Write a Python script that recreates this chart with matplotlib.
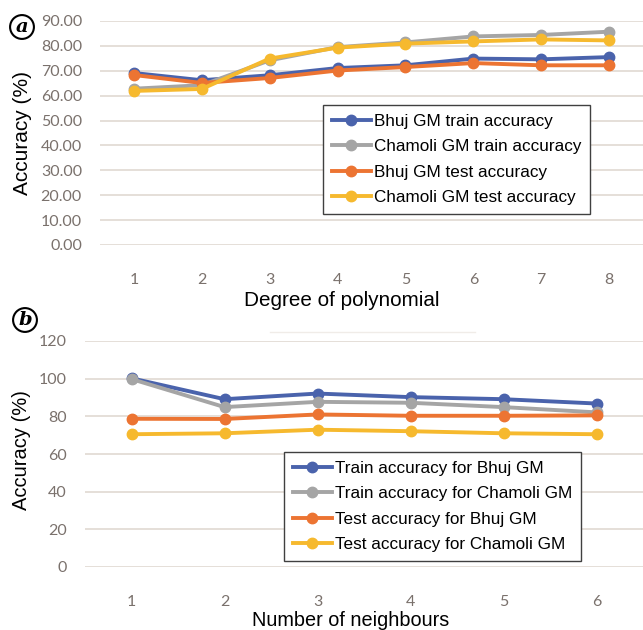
import matplotlib
matplotlib.use("Agg")
import matplotlib.pyplot as plt
from matplotlib.lines import Line2D

# ---- data ----
degrees = [1, 2, 3, 4, 5, 6, 7, 8]
bhuj_train_a = [69.1, 66.2, 68.2, 71.1, 72.2, 74.9, 74.6, 75.5]
chamoli_train_a = [62.8, 64.2, 74.2, 79.5, 81.4, 83.8, 84.4, 85.7]
bhuj_test_a = [68.3, 65.1, 67.1, 70.1, 71.5, 73.1, 72.2, 72.2]
chamoli_test_a = [61.9, 62.7, 74.9, 79.3, 80.9, 81.8, 82.6, 82.2]
labels_a = ["Bhuj GM train accuracy", "Chamoli GM train accuracy",
            "Bhuj GM test accuracy", "Chamoli GM test accuracy"]
yticks_a = [0, 10, 20, 30, 40, 50, 60, 70, 80, 90]

neighbours = [1, 2, 3, 4, 5, 6]
bhuj_train_b = [100.2, 89.1, 92.1, 90.2, 89.1, 86.8]
chamoli_train_b = [99.8, 84.9, 87.7, 87.2, 84.9, 82.1]
bhuj_test_b = [78.7, 78.6, 81.0, 80.3, 80.3, 80.5]
chamoli_test_b = [70.5, 71.0, 72.9, 72.1, 71.0, 70.5]
labels_b = ["Train accuracy for Bhuj GM", "Train accuracy for Chamoli GM",
            "Test accuracy for Bhuj GM", "Test accuracy for Chamoli GM"]
yticks_b = [0, 20, 40, 60, 80, 100, 120]

colors = ["#4A63AC", "#A5A5A5", "#EC7432", "#F6B92E"]
tick_color = "#7a716c"
grid_color = "#e3dcd6"
W, H = 643, 630

fig = plt.figure(figsize=(W / 100, H / 100), dpi=100)

def style_ax(ax, xs, yticks, fmt):
    ax.set_yticks(yticks)
    ax.set_yticklabels([fmt.format(v) for v in yticks])
    ax.set_xticks(xs)
    ax.set_xticklabels([str(v) for v in xs])
    for s in ax.spines.values():
        s.set_visible(False)
    ax.grid(axis="y", color=grid_color, lw=1.3)
    ax.set_axisbelow(True)
    ax.tick_params(length=0, colors=tick_color, labelsize=11.5)
    for lab in ax.get_xticklabels() + ax.get_yticklabels():
        lab.set_fontfamily("Lato")

def plot_series(ax, xs, series):
    handles = []
    for ys, c in zip(series, colors):
        h, = ax.plot(xs, ys, color=c, lw=2.8, marker="o", ms=7.5,
                     clip_on=False, zorder=3)
        handles.append(h)
    return handles

def add_legend(ax, handles, labels, left, top):
    leg = ax.legend(handles, labels, loc="upper left",
                    bbox_to_anchor=(left / W, 1 - top / H),
                    bbox_transform=fig.transFigure,
                    prop={"family": "Liberation Sans", "size": 12.3},
                    frameon=True, fancybox=False, edgecolor="#404040", framealpha=1,
                    handlelength=2.3, handletextpad=0.2, labelspacing=0.62,
                    borderpad=0.5, borderaxespad=0)
    leg.get_frame().set_linewidth(1.0)
    return leg

# ---- panel a ----
ax1 = fig.add_axes([100 / W, 1 - 245 / H, 543 / W, 224 / H])
ha = plot_series(ax1, degrees, [bhuj_train_a, chamoli_train_a, bhuj_test_a, chamoli_test_a])
ax1.set_xlim(0.5, 8.5)
ax1.set_ylim(0, 90)
style_ax(ax1, degrees, yticks_a, "{:.2f}")
ax1.tick_params(axis="y", pad=13)
ax1.tick_params(axis="x", pad=20)
add_legend(ax1, ha, labels_a, 323, 105)
fig.text(342 / W, 1 - 300 / H, "Degree of polynomial", fontsize=14.9,
         family="Liberation Sans", ha="center", va="center")
fig.text(23 / W, 1 - 133 / H, "Accuracy (%)", fontsize=15, rotation=90,
         family="Liberation Sans", ha="center", va="center")

# ---- panel b ----
ax2 = fig.add_axes([85 / W, 1 - 567 / H, 558 / W, 226 / H])
hb = plot_series(ax2, neighbours, [bhuj_train_b, chamoli_train_b, bhuj_test_b, chamoli_test_b])
ax2.set_xlim(0.5, 6.5)
ax2.set_ylim(0, 120)
style_ax(ax2, neighbours, yticks_b, "{:d}")
ax2.tick_params(axis="y", pad=13)
ax2.tick_params(axis="x", pad=20)
add_legend(ax2, hb, labels_b, 284, 452)
fig.text(351 / W, 1 - 621 / H, "Number of neighbours", fontsize=14.3,
         family="Liberation Sans", ha="center", va="center")
fig.text(22 / W, 1 - 450 / H, "Accuracy (%)", fontsize=14.5, rotation=90,
         family="Liberation Sans", ha="center", va="center")

# faint title remnant line in panel b
fig.add_artist(Line2D([270 / W, 475 / W], [1 - 332 / H, 1 - 332 / H],
                      color="#f0ece8", lw=1.0, transform=fig.transFigure))

# ---- panel letters ----
for letter, (x, y) in (("a", (22, 27)), ("b", (25, 320))):
    fig.text(x / W, 1 - y / H, letter, family="DejaVu Serif", style="italic",
             weight="bold", fontsize=14, ha="center", va="center",
             bbox=dict(boxstyle="circle,pad=0.15", fc="white", ec="black", lw=1.5))

fig.savefig("out.png", dpi=100)
